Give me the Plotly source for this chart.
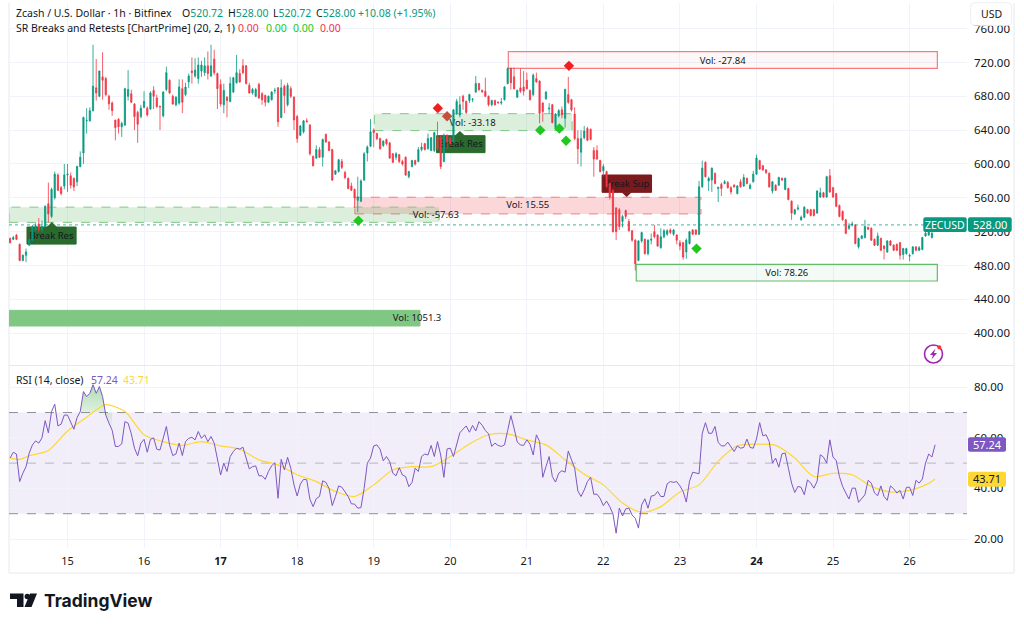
import plotly.graph_objects as go

DAY_LABELS = ["15", "16", "<b>17</b>", "18", "19", "20", "21", "22", "23", "<b>24</b>", "25", "26"]
DAY_HOURS = [0, 24, 48, 72, 96, 120, 144, 168, 192, 216, 240, 264]
PRICE_TICKS = [400, 440, 480, 520, 560, 600, 640, 680, 720, 760]
RSI_TICKS = [20, 40, 60, 80]

opens = [512,511,516,505,486,492,504,510,522,529,
 522,526,553,538,560,587,572,574,587,586,
 583,579,597,613,651,651,663,690,680,703,
 701,680,672,652,653,644,646,680,683,671,
 661,656,667,666,665,687,678,668,657,688,
 699,680,670,672,689,682,697,710,704,701,
 710,708,716,704,724,707,694,670,679,674,
 685,696,707,716,716,693,684,680,694,683,
 681,673,676,686.5,690,655,692,670,689,679,
 656,634,638,651,646,609,607,617,608,635,
 626,617,588,591,603,590,583,574,570,557,
 556,581,613,621,640,636,630,622,629,625,
 612,608,611,603,608,585,597,604,603,617,
 624,618,616,616,632,632,603,634,630,626,
 660,658,680,674,675,676,685,695,687,686,
 680,670,675,673,672,676,695,713,703,679,
 690,691,699,687,682,701,698,672,677,665,
 670,643,657,664,654,682,676,659,630,614,
 631,642,641,616,616,604,592,591,577,569,
 548,546,532,545,532,521,510,486,509,511,
 494,510,520,516,501,514,517,522,517,516,
 507,507,496,506,522,522,517,573,602,580,
 581,589,571,576,577,578,572,575,565,579,
 574,583,571,579,588,604,598,593,589,568,
 575,575,583,570,571,556,541,547,534,537,
 546,546,546,542,561,566,561,586,572,565,
 551,544,534,524,528,528,502,512,513,525,
 524,511,504,512,503,496,509,504,505,507,
 493,494,491,494,502,498,499,515,516,513,520.72]

highs = [513,515,517,506,493,500,512,528,530,536,
 533,551,578,572,591,589,574,600,600,590,
 584,598,615,656,666,667,741,724,710,732,
 703,682,674,652,654,650,690,711,688,672,
 663,670,686,668,686,692,682,669,686,715,
 700,682,680,700,700,696,707,726,725,726,
 722,726,733,741,735,708,700,695,680,703,
 703,729,712,724,717,696,690,690,696,685,
 682,681,686,690,691,700,694,696,692,680,
 658,646,652,654,647,610,622,620,630,636,
 627,618,593,606,606,592,584,578,571,585,
 582,614,622,653,642,637,631,628,630,626,
 613,614,612,605,609,592,605,605,620,625,
 625,636,632,638,650,633,636,635,632,665,
 677,680,682,675,683,678,704,696,688,702,
 681,676,676,674,678,692,714,714,714,688,
 713,710,708,688,707,708,699,673,686,672,
 671,660,665,668,689,703,677,667,640,640,
 645,644,642,620,622,605,600,592,578,570,
 549,548,540,546,535,522,511,510,520,512,
 511,518,528,517,524,523,523,524,523,517,
 510,508,512,521,523,523,580,604,603,585,
 596,590,573,578,581,580,574,576,575,582,
 588,584,577,592,611,605,599,594,590,580,
 576,585,584,584,572,557,547,552,539,550,
 547,547,547,569,572,567,586,594,573,566,
 552,545,535,530,532,529,513,516,534,526,
 525,512,519,513,504,510,510,505,506,508,
 501,501,494,503,503,503,514,520,521,520,528]

lows = [506,510,510,485,485,484,503,509,520,520,
 520,525,531,536,558,568,563,570,567,571,
 568,574,596,600,636,650,662,675,679,676,
 680,664,657,628,636,632,645,675,672,640,
 625,654,666,656,664,665,666,640,655,686,
 683,670,668,670,660,680,690,695,702,695,
 703,704,700,703,705,665,668,660,655,673,
 684,695,696,706,694,683,682,679,677,670,
 668,672,675,683,644,654,660,668,678,640,
 625,633,636,649,610,597,606,607,597,625,
 615,580,587,590,594,582,570,568,548,543,
 555,580,603,620,620,628,617,620,622,606,
 601,605,601,598,586,583,596,598,602,615,
 616,617,615,614,616,594,602,618,622,625,
 658,655,664,659,672,673,684,686,684,679,
 668,668,669,671,670,675,694,688,688,678,
 684,681,688,675,680,696,648,650,676,660,
 648,640,655,654,643,671,662,628,600,597,
 629,627,628,585,605,590,585,572,558,519,
 510,522,525,535,520,508,474,485,507,493,
 492,505,512,502,500,512,515,517,515,505,
 498,487,488,505,516,516,516,572,584,568,
 567,576,555,562,576,571,564,572,564,572,
 573,576,570,578,587,593,592,588,572,565,
 568,574,580,569,557,534,540,545,533,536,
 541,538,538,541,560,560,560,566,560,549,
 537,533,517,522,526,505,500,511,512,522,
 509,503,503,497,487,495,503,497,497,487,
 487,493,485,493,497,497,498,514,515,512,520.72]

closes = [507,513,511,486,492,496,510,526,527,522,
 526,550,541,570,588,569,565,587,588,575,
 573,597,608,655,651.5,663,692,684,710,699,
 682,671,663,643,644,648,689,688,673,656,
 647,666,674,658,684,680,668,667.5,685,708,
 684,671,679,691,673,691,704,708,711,717,
 717,716,707,716,708,689,671,687,675,695,
 702,708,697,708,695,684,688,688,678,676,
 673,680,685,687,650,690,681,693,680,652,
 630,645,651,650,612,598,617,608,629,626,
 616,581,592,605,596,584,571,569,560,561,
 580,612,620,638,637,630,618,627,624,607,
 602,612,603,600,587,591,604,600,617,620,
 617,630,631,637,618,597,634,626,624,664,
 674,670,674,661,682,676.5,695,688,685.5,680,
 670,675,670,672.5,673,691,713,696,689,687,
 686,686,689,676,705,697,660,662,685,666,
 649,659,663,658,688,673,664,630,618,630,
 639,628,629,606,606,591,597,573,561,520,
 520,526,538,538,521,510,482,509,519,494,
 510,511,514,503,514,521,521,519,522,510,
 503,490,510,520,517,517,573,595,585,583,
 595,577,572.5,571,579,572,567,573,574,573,
 584,577,575,588,607,594,593,590,573,579,
 569,584,581,583,558,542,546,548,537,549,
 542,539,539,568,566,561,585,567,561,550,
 538,534,518,527,529,506,512,515,526,523,
 510,504,515,498,500,509,504,498,498,492,
 500,500,492,502,498,501,513,518,520,518,528]

rsi = [52,54.3,53.6,42.7,46,48.6,54,57.2,58.8,57.9,60,66.8,62,70.4,73.3,64.7,65.4,69,69,66.4,
 63.4,68,70.4,78.3,76.3,77.6,81,77.6,80.3,76.3,69,65.8,63,56.6,56.6,57.6,66.4,65.8,61.6,55.9,
 52.9,57.9,59.4,54.3,59.4,60,55.5,55.2,60,64.5,57.2,53,53.6,57.9,53,58.5,59.8,60.2,59.2,62.5,
 59.8,61.2,58.5,60.5,57.9,51.3,45.3,50,46.7,52.6,54.6,55.9,55.5,56.3,52,47.7,48.6,48.9,45,45,
 43.6,46.7,48.9,50.2,36.1,51.5,47.3,52.3,48,41.4,37,41.7,43.6,43.4,35.7,32.8,36,36.8,43,42.4,
 40,33.2,36.8,41,40.5,
 38.8,36.8,33.9,33.8,32.2,32.4,40,50,52,56.8,57.2,55.5,50.9,52.6,50.6,46,45,48.2,45.3,44.7,
 40.7,42.3,48,46.7,52.6,53.6,53.2,57,52.6,58.5,53.2,44.4,55.6,55.9,52.6,57.2,62,63.4,64.7,62.2,
 64.9,62.7,66.4,65,62.9,61.6,56.6,57.9,57,56.6,57.2,62.9,68.8,63.8,58.3,57.2,57,59.2,57.5,53.2,
 61.2,58.5,44.4,48.6,52.6,44.7,42.5,46,47,46.4,54.8,51.3,48,39,36.8,39.4,42.7,44.4,37.7,37.7,
 36,33.2,35,32.8,29.9,22.3,32.2,29.1,31.9,32.2,29.5,28.2,24.3,33.5,35.9,32.2,37,37.2,38.8,36.8,
 36.8,41.8,42.7,42.4,42.7,41,
 38.8,34.6,42.8,46.4,46,45.8,61.8,66,61.8,61.8,64.5,58.2,56.8,56.8,58.3,56.6,54.6,56.8,55.9,56.2,
 59.5,56.2,55.9,59.5,66,60.8,61.2,58.5,50,52,48.4,53.7,54,48,42.1,38.4,40.8,40.4,37.5,43.4,
 42.1,40.1,42.8,53.3,52.4,50,59.2,52.4,51,44.7,40.8,38.2,35.8,40.1,40.1,34.5,35.8,37.5,43.2,42.1,
 38.2,37.1,41,36.8,35.3,41,39.9,38.2,39.2,35.8,40.4,40.5,37.2,43.2,42.1,43.7,50,53.6,52.4,57.24]

# RSI moving average, read every few bars
ma_hours = [-18,-15,-12,-6,0,6,9,12,18,24,30,36,42,48,54,60,66,72,78,84,90,96,102,108,114,120,126,132,138,144,150,156,162,168,174,180,186,192,198,204,210,216,222,228,234,240,246,252,258,264,270,272]
ma_values = [52,51.5,52.9,55,62.7,68.1,71,73.1,70.4,61.2,58.5,57,58.5,56.8,55.5,51.3,49.3,45.4,42.7,38.8,36.8,41.4,47.3,48.6,48.6,52.6,57.6,61.2,61.6,59.2,57.2,51.3,45.6,41.4,34.2,30.6,32.8,38.6,41.4,50.7,56.8,57.5,57,52,44.7,46,45.4,40.8,38.6,39.2,42,43.71]

# zones: left hour, right hour, low price, high price
zone_sup_a = [-18.34, 116.5, 531, 549]
zone_res = [90.1, 198.6, 541, 560.7]
zone_sup_b = [96.2, 158.2, 639.5, 659.5]
zone_top = [138.2, 272.7, 713, 732.8]
zone_low = [178.3, 272.7, 461.7, 481.4]
zone_base = [-18.34, 110.5, 408.5, 427]

# volume captions: hour, price, text
vol_hours = [115.5, 144.3, 127, 205.4, 225.5, 109.6]
vol_prices = [540, 552, 649, 722, 471, 418]
vol_texts = ["Vol: -57.63", "Vol: 15.55", "Vol: -33.18", "Vol: -27.84", "Vol: 78.26", "Vol: 1051.3"]

red_sig_hours = [116.1, 157.2]
red_sig_prices = [666, 716]
brown_sig_hours = [119]
brown_sig_prices = [656.4]
green_sig_hours = [91.2, 148.2, 154.2, 156.3, 197.2]
green_sig_prices = [533, 640, 642, 627.5, 500]

assert len(opens) == len(highs) == len(lows) == len(closes) == 291, (len(opens), len(highs), len(lows), len(closes))
assert len(rsi) == 291, len(rsi)
assert len(ma_hours) == len(ma_values), (len(ma_hours), len(ma_values))

hours = [i - 18 for i in range(291)]

UP, DOWN = "#089981", "#F23645"
INK = "#131722"
GRID = "#F0F3FA"
FONT = "Noto Sans"
X_RANGE = [-18.34, 282]
MID = "between"

def px(x):
    return x / 1024

def py(y):
    return 1 - y / 627

def rr(x0, y0, x1, y1, r=2):
    return (f"M{px(x0+r)},{py(y0)} L{px(x1-r)},{py(y0)} Q{px(x1)},{py(y0)} {px(x1)},{py(y0+r)} "
            f"L{px(x1)},{py(y1-r)} Q{px(x1)},{py(y1)} {px(x1-r)},{py(y1)} L{px(x0+r)},{py(y1)} "
            f"Q{px(x0)},{py(y1)} {px(x0)},{py(y1-r)} L{px(x0)},{py(y0+r)} Q{px(x0)},{py(y0)} {px(x0+r)},{py(y0)} Z")

fig = go.Figure()

fig.add_trace(go.Candlestick(
    x=hours, open=opens, high=highs, low=lows, close=closes, xaxis="x", yaxis="y",
    increasing=dict(line=dict(color=UP, width=0.8), fillcolor=UP),
    decreasing=dict(line=dict(color=DOWN, width=0.8), fillcolor=DOWN),
    whiskerwidth=0, showlegend=False, hoverinfo="skip"))

for hx, hy, col in [(red_sig_hours, red_sig_prices, "#F01E1E"),
                    (brown_sig_hours, brown_sig_prices, "#C4513E"),
                    (green_sig_hours, green_sig_prices, "#1FC71F")]:
    fig.add_trace(go.Scatter(x=hx, y=hy, mode="markers", xaxis="x", yaxis="y", showlegend=False,
                             marker=dict(symbol="diamond", size=8, color=col), hoverinfo="skip"))

# overbought fill
ob_x = hours[22:33]
ob_y = rsi[22:33]
fig.add_trace(go.Scatter(x=[ob_x[0]] + ob_x + [ob_x[-1]], y=[70] + ob_y + [70], mode="none", fill="toself",
                         xaxis="x2", yaxis="y2", showlegend=False, hoverinfo="skip",
                         fillgradient=dict(type="vertical", colorscale=[[0, "rgba(76,175,80,0)"], [1, "rgba(76,175,80,0.45)"]])))
fig.add_trace(go.Scatter(x=ma_hours, y=ma_values, mode="lines", xaxis="x2", yaxis="y2", showlegend=False,
                         line=dict(color="#FDD835", width=1.2, shape="spline", smoothing=0.8), hoverinfo="skip"))
fig.add_trace(go.Scatter(x=hours, y=rsi, mode="lines", xaxis="x2", yaxis="y2", showlegend=False,
                         line=dict(color="#7E57C2", width=1), hoverinfo="skip"))

shapes = []

def zone(z, fill, color, dash, width=1):
    shapes.append(dict(type="rect", xref="x", yref="y", x0=z[0], x1=z[1], y0=z[2], y1=z[3], layer=MID,
                       fillcolor=fill, line=dict(color=color, width=width, dash=dash)))

zone(zone_base, "#81C784", "#81C784", "solid")
zone(zone_res, "rgba(242,54,69,0.2)", "#F77C80", "dash")
zone(zone_sup_a, "rgba(76,175,80,0.2)", "#81C784", "dash")
zone(zone_sup_b, "rgba(76,175,80,0.2)", "#81C784", "dash")
zone(zone_top, "rgba(242,54,69,0.04)", "#F77C80", "solid", 1.2)
zone(zone_low, "rgba(76,175,80,0.06)", "#66BB6A", "solid", 1.2)

# current price line
shapes.append(dict(type="line", xref="x", yref="y", x0=X_RANGE[0], x1=X_RANGE[1], y0=528, y1=528, layer=MID,
                   line=dict(color="rgba(8,153,129,0.75)", width=1, dash="dot")))

for hx, hy, t in zip(vol_hours, vol_prices, vol_texts):
    shapes.append(dict(type="rect", xref="x", yref="y", x0=hx - 8, x1=hx + 8, y0=hy - 5, y1=hy + 5, layer=MID,
                       fillcolor="rgba(0,0,0,0)", line=dict(width=0),
                       label=dict(text=t, font=dict(family=FONT, size=9.5, color=INK), textposition="middle center")))

def break_label(h0, h1, p0, p1, tip_h, tip_p, base_p, color, text):
    shapes.append(dict(type="rect", xref="x", yref="y", x0=h0, x1=h1, y0=p0, y1=p1, layer=MID,
                       fillcolor=color, line=dict(color=color, width=1),
                       label=dict(text=text, font=dict(family=FONT, size=9.5, color=INK), textposition="middle center")))
    shapes.append(dict(type="path", xref="x", yref="y", layer=MID, fillcolor=color, line=dict(color=color, width=0),
                       path=f"M{tip_h - 1.6},{base_p} L{tip_h},{tip_p} L{tip_h + 1.6},{base_p} Z"))

break_label(-12.7, 2.7, 505.3, 525.5, -4.9, 531.4, 525.5, "#2A6A2C", "Break Res")
break_label(115.7, 130.9, 613.4, 633.5, 123, 639, 633.5, "#2A6A2C", "Break Res")
break_label(167.6, 183.1, 566.5, 587, 175.3, 561, 566.5, "#7B1A1C", "Break Sup")

# RSI band
shapes.append(dict(type="rect", xref="x2", yref="y2", x0=X_RANGE[0], x1=X_RANGE[1], y0=30, y1=70, layer="below",
                   fillcolor="rgba(126,87,194,0.1)", line=dict(width=0)))
for lvl, dsh, col in [(70, "dash", "#8E9099"), (30, "dash", "#8E9099"), (50, "dash", "#B5B7BE")]:
    shapes.append(dict(type="line", xref="x2", yref="y2", x0=X_RANGE[0], x1=X_RANGE[1], y0=lvl, y1=lvl, layer=MID,
                       line=dict(color=col, width=1, dash=dsh)))

# frame and separators
for (a, b, c, d) in [(9, 365.5, 1014, 365.5), (9, 573, 1014, 573), (9, 3, 9, 573), (1014, 3, 1014, 573)]:
    shapes.append(dict(type="line", xref="paper", yref="paper", x0=px(a), x1=px(c), y0=py(b), y1=py(d), layer="below",
                       line=dict(color="#E6E8F0", width=1)))

def tag(x0, y0, x1, y1, color):
    shapes.append(dict(type="path", xref="paper", yref="paper", layer="above", fillcolor=color,
                       line=dict(width=0), path=rr(x0, y0, x1, y1)))

tag(923.3, 217.3, 966.7, 232, UP)
tag(968, 217.3, 1011.7, 232, UP)
tag(968, 437.3, 1006, 451.7, "#7E57C2")
tag(968, 471.7, 1006, 486.7, "#FDD835")

# USD button
shapes.append(dict(type="path", xref="paper", yref="paper", layer="above", fillcolor="white",
                   line=dict(color="#EDEEF2", width=1), path=rr(970.7, 2.7, 1011.7, 25.3, 4)))

# bolt icon
shapes.append(dict(type="circle", xref="paper", yref="paper", layer="above", fillcolor="white",
                   x0=px(924.5), x1=px(942.5), y0=py(363), y1=py(345), line=dict(color="#9C27B0", width=1.6)))
shapes.append(dict(type="path", xref="paper", yref="paper", layer="above", fillcolor="#9C27B0", line=dict(width=0),
                   path=f"M{px(935.5)},{py(348.5)} L{px(930)},{py(355)} L{px(933)},{py(355)} L{px(931.5)},{py(359.5)} L{px(937)},{py(353)} L{px(934)},{py(353)} Z"))
shapes.append(dict(type="circle", xref="paper", yref="paper", layer="above", fillcolor="#F23645",
                   x0=px(937.2), x1=px(941.4), y0=py(349.4), y1=py(345.2), line=dict(width=0)))

# TradingView mark
LOGO = "#131722"
shapes.append(dict(type="path", xref="paper", yref="paper", layer="above", fillcolor=LOGO, line=dict(width=0),
                   path=f"M{px(10)},{py(593.5)} L{px(23.5)},{py(593.5)} L{px(23.5)},{py(607)} L{px(17)},{py(607)} L{px(17)},{py(599)} L{px(10)},{py(599)} Z"))
shapes.append(dict(type="circle", xref="paper", yref="paper", layer="above", fillcolor=LOGO, line=dict(width=0),
                   x0=px(24.6), x1=px(30), y0=py(599.2), y1=py(593.8)))
shapes.append(dict(type="path", xref="paper", yref="paper", layer="above", fillcolor=LOGO, line=dict(width=0),
                   path=f"M{px(37)},{py(593.5)} L{px(31.5)},{py(607)} L{px(24.5)},{py(607)} L{px(30)},{py(593.5)} Z"))

anns = []

def txt(x, y, text, color=INK, size=10.5, anchor="left", family=FONT):
    anns.append(dict(xref="paper", yref="paper", x=px(x), y=py(y), text=text, showarrow=False, xanchor=anchor,
                     yanchor="middle", font=dict(family=family, size=size, color=color), xshift=0, yshift=0,
                     borderpad=0, borderwidth=0))

txt(16, 12.5, "Zcash / U.S. Dollar · 1h · Bitfinex")
for x, lab, val in [(182, "O", "520.72"), (228, "H", "528.00"), (272.5, "L", "520.72"), (316, "C", "528.00")]:
    txt(x, 12.5, f"{lab}<span style='color:{UP}'>{val}</span>")
txt(358, 12.5, "+10.08 (+1.95%)", UP)
txt(16, 28, "SR Breaks and Retests [ChartPrime] (20, 2, 1)")
for x, c in [(238, DOWN), (265.5, "#22C922"), (293, "#22C922"), (320, DOWN)]:
    txt(x, 28, "0.00", c)
txt(16, 380, "RSI (14, close)")
txt(91, 380, "57.24", "#7E57C2")
txt(123, 380, "43.71", "#FDD835")
txt(991, 14, "USD", INK, 10.5, "center")
txt(945, 224.8, "ZECUSD", "white", 10.5, "center")
txt(990, 224.8, "528.00", "white", 11, "center")
txt(987, 444.5, "57.24", "white", 11, "center")
txt(987, 479, "43.71", INK, 11, "center")
txt(44, 600, "<b>TradingView</b>", LOGO, 17.5, "left", "Inter")

fig.update_layout(
    width=1024, height=627, autosize=False,
    margin=dict(l=0, r=0, t=0, b=0),
    paper_bgcolor="white", plot_bgcolor="white",
    showlegend=False, shapes=shapes, annotations=anns,
    font=dict(family=FONT, color=INK, size=11),
    boxgap=0.45,
    xaxis=dict(domain=[px(9), px(967)], range=X_RANGE, anchor="y", tickvals=DAY_HOURS, ticktext=DAY_LABELS,
               showticklabels=False, showgrid=True, gridcolor=GRID, gridwidth=1, zeroline=False, rangeslider=dict(visible=False), ticks=""),
    yaxis=dict(domain=[py(365), py(3)], range=[362.4, 790.3], anchor="x", side="right", tickvals=PRICE_TICKS,
               ticktext=[f"{v:.2f}" for v in PRICE_TICKS], showgrid=True, gridcolor=GRID, zeroline=False, ticks="",
               ticklabelstandoff=6, tickfont=dict(size=11.5, color=INK)),
    xaxis2=dict(domain=[px(9), px(967)], range=X_RANGE, anchor="y2", tickvals=DAY_HOURS, ticktext=DAY_LABELS,
                showgrid=True, gridcolor=GRID, zeroline=False, ticks="", ticklabelstandoff=5, tickfont=dict(size=11, color=INK)),
    yaxis2=dict(domain=[py(548), py(366)], range=[16.44, 88.4], anchor="x2", side="right", tickvals=RSI_TICKS,
                ticktext=[f"{v:.2f}" for v in RSI_TICKS], showgrid=True, gridcolor=GRID, zeroline=False, ticks="",
                ticklabelstandoff=6, tickfont=dict(size=11.5, color=INK)),
)

fig.write_html("out.html", config=dict(displayModeBar=False),
               post_script="document.body.style.margin='0';document.body.style.overflow='hidden';")
